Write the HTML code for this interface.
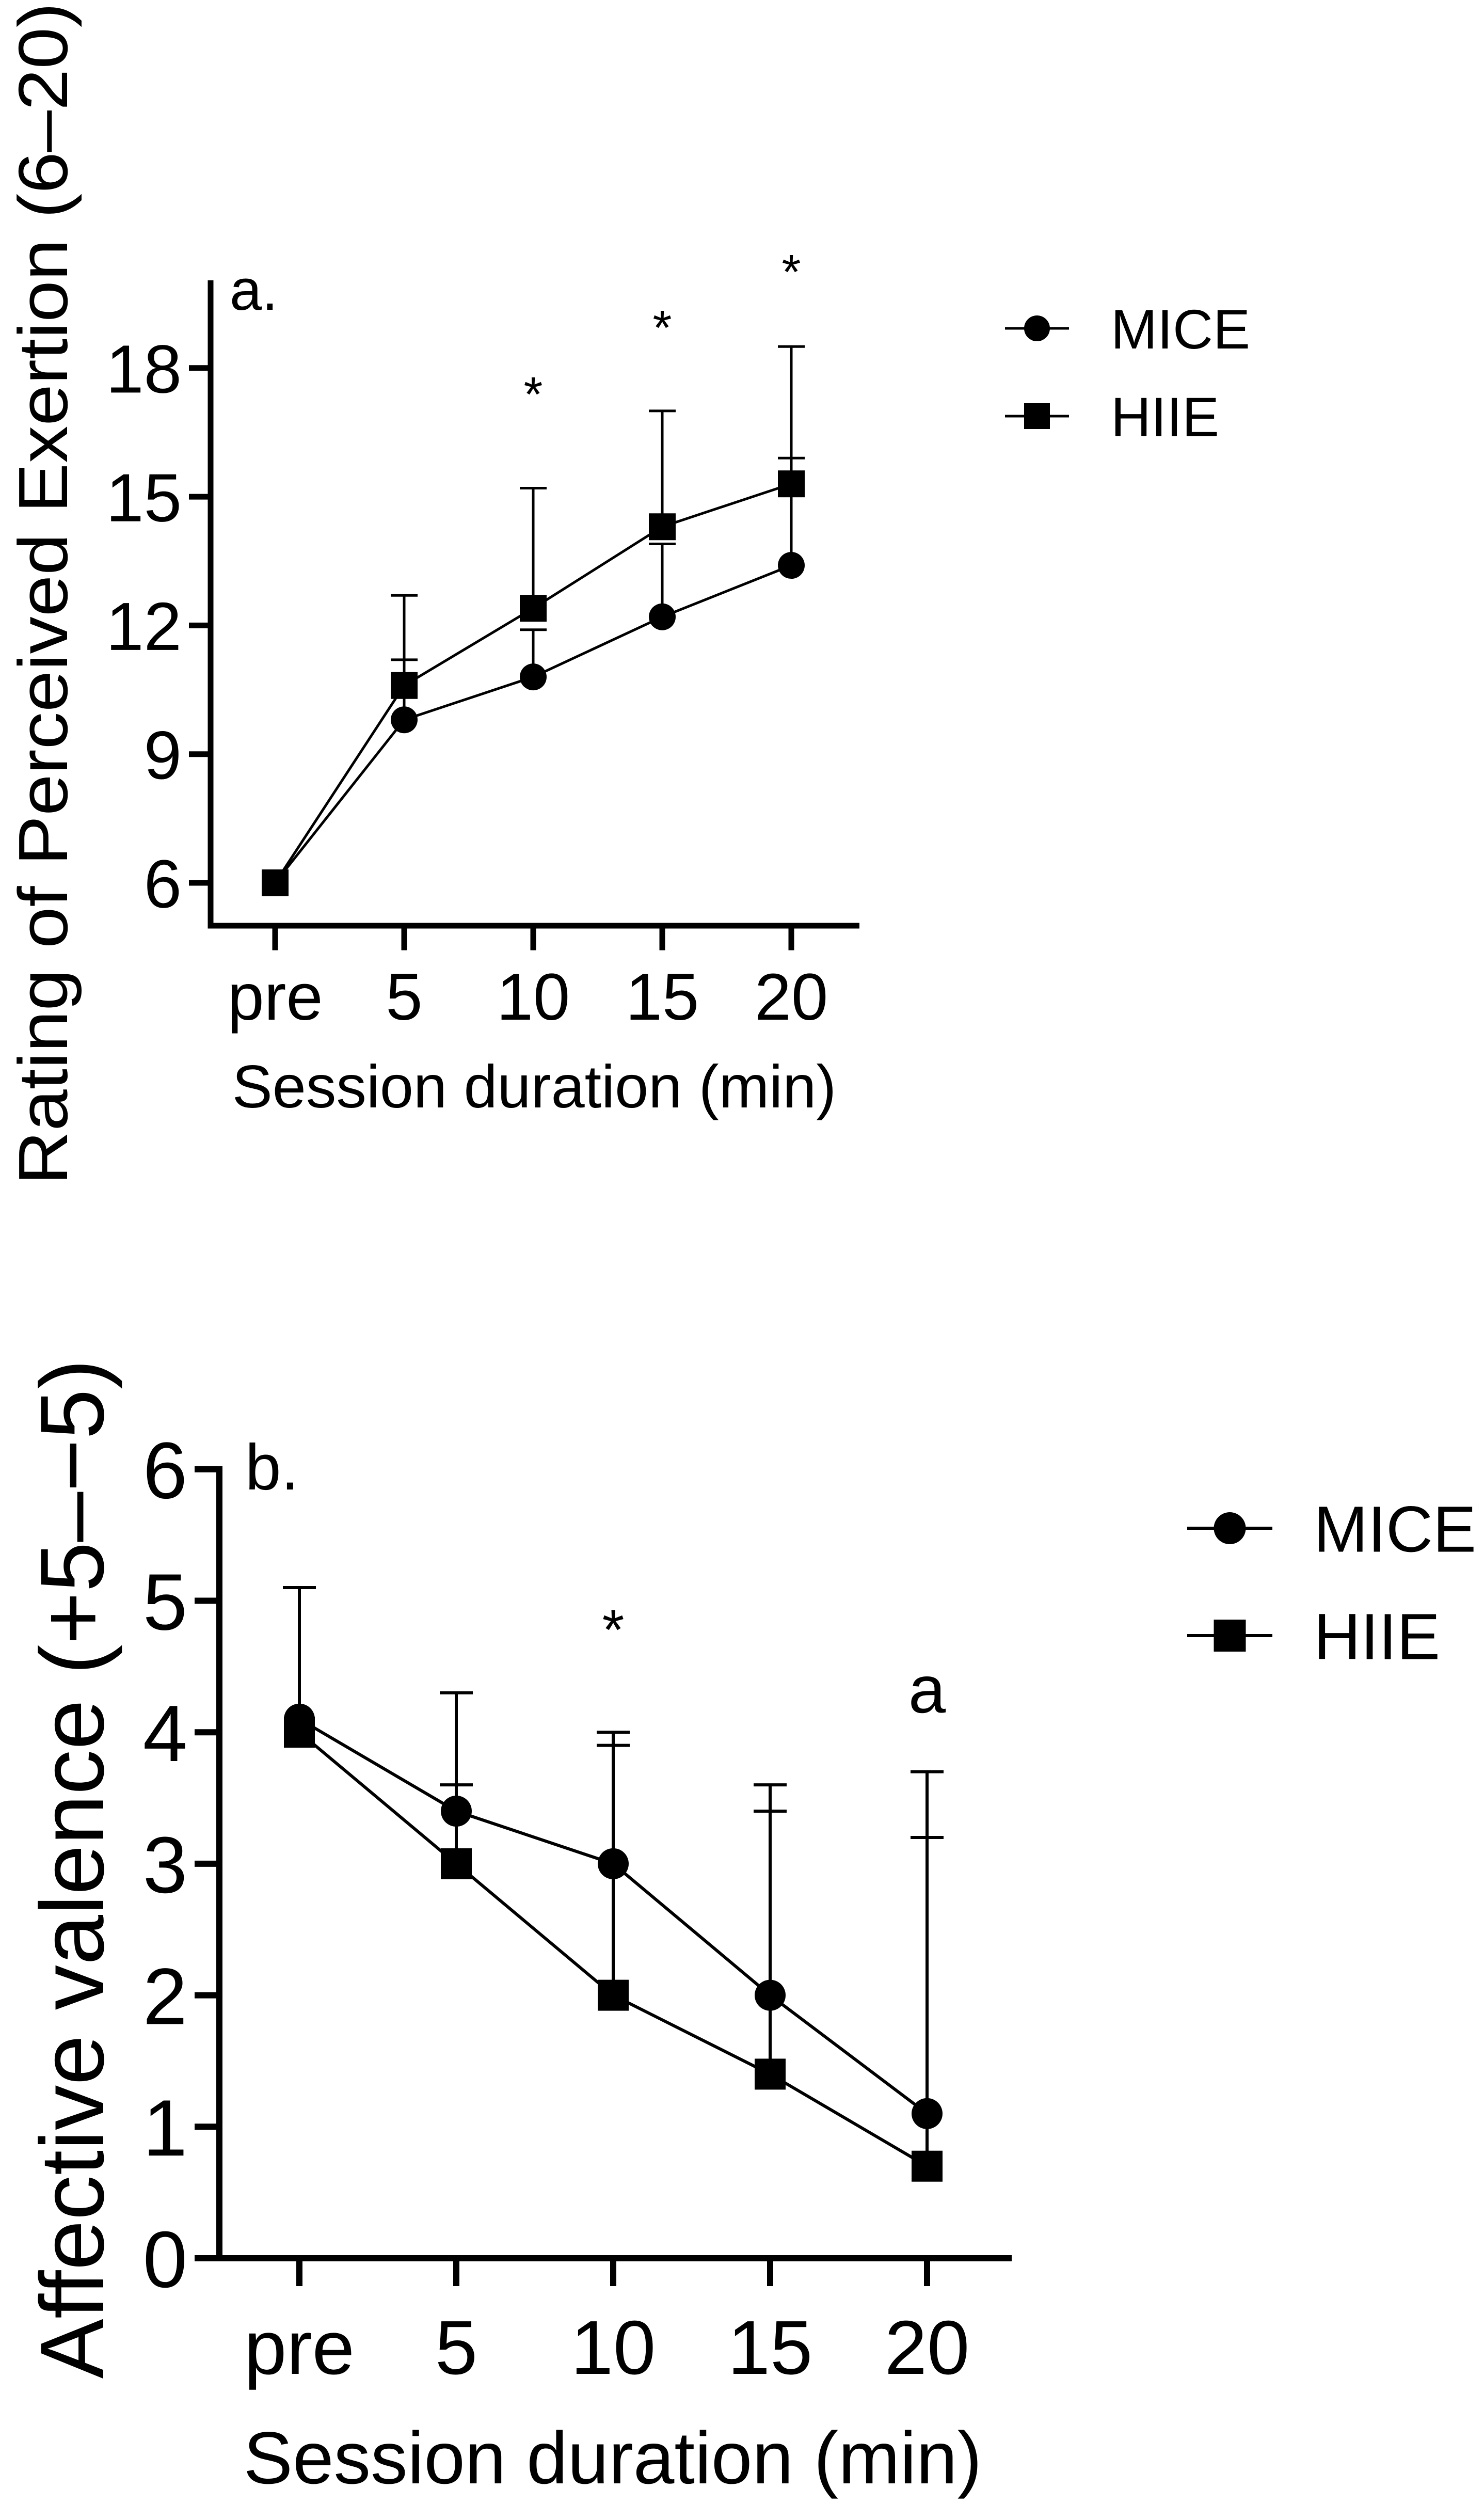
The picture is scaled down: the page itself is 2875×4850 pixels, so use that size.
<!DOCTYPE html>
<html><head><meta charset="utf-8"><style>
html,body{margin:0;padding:0;background:#fff;}
svg{display:block;font-family:"Liberation Sans",Arial,sans-serif;}
</style></head>
<body>
<svg id="fig" width="2875" height="4850" viewBox="0 0 2875 4850" xmlns="http://www.w3.org/2000/svg">
<rect width="2875" height="4850" fill="#fff"/>
<g id="chartA"></g>
<g id="chartB"></g>
</svg>
<script>
const categories = ["pre","5","10","15","20"];
const rpeMice = [6, 9.8, 10.8, 12.2, 13.4];
const rpeHiie = [6, 10.6, 12.4, 14.3, 15.3];
const rpeMiceErr = [null, 11.2, 11.9, 13.9, 15.9];
const rpeHiieErr = [null, 12.7, 15.2, 17.0, 18.5];
const rpeTicks = [6, 9, 12, 15, 18];
const rpeStars = ["", "", "*", "*", "*"];
const rpeStarY = [0, 0, 17.0, 18.55, 19.85];
const affMice = [4.1, 3.4, 3.0, 2.0, 1.1];
const affHiie = [4.0, 3.0, 2.0, 1.4, 0.7];
const affMiceErr = [5.1, 4.3, 4.0, 3.6, 3.7];
const affHiieErr = [null, 3.6, 3.9, 3.4, 3.2];
const affTicks = [0, 1, 2, 3, 4, 5, 6];
const affMarks = ["", "", "*", "", "a"];
const affMarkY = [0, 0, 4.63, 0, 4.15];

const NS = "http://www.w3.org/2000/svg";
function mk(parent, tag, attrs, text){
  const e = document.createElementNS(NS, tag);
  for (const k in attrs) e.setAttribute(k, attrs[k]);
  if (text !== undefined) e.textContent = text;
  parent.appendChild(e);
  return e;
}

function drawChart(g, cfg){
  const xS = i => cfg.x0 + i*cfg.dx;
  const yS = v => cfg.yBase - (v - cfg.vBase)*cfg.pxPerUnit;
  let ax = mk(g,'line',{x1:cfg.axX,y1:cfg.axTop,x2:cfg.axX,y2:cfg.axY+cfg.aw/2,stroke:'#000','stroke-width':cfg.aw});
   
  ax = mk(g,'line',{x1:cfg.axX-cfg.aw/2,y1:cfg.axY,x2:cfg.axEnd,y2:cfg.axY,stroke:'#000','stroke-width':cfg.aw});
   
  cfg.ticks.forEach(t=>{
    const y=yS(t);
    const tl=mk(g,'line',{x1:cfg.axX-cfg.tickLen,y1:y,x2:cfg.axX,y2:y,stroke:'#000','stroke-width':cfg.aw});
     
    const tx=mk(g,'text',{x:cfg.axX-cfg.tickLen-14,y:y+cfg.yfs*0.36,'text-anchor':'end','font-size':cfg.yfs},String(t));
     
  });
  categories.forEach((c,i)=>{
    const x=xS(i);
    const tl=mk(g,'line',{x1:x,y1:cfg.axY,x2:x,y2:cfg.axY+cfg.tickLen+cfg.aw/2,stroke:'#000','stroke-width':cfg.aw});
     
    const tx=mk(g,'text',{x:x,y:cfg.xlabY,'text-anchor':'middle','font-size':cfg.xfs},c);
     
  });
  [[cfg.mice,cfg.miceErr],[cfg.hiie,cfg.hiieErr]].forEach(([vals,errs])=>{
    vals.forEach((v,i)=>{
      if(errs[i]==null) return;
      const x=xS(i);
      const e=mk(g,'path',{d:`M${x},${yS(v)} V${yS(errs[i])} M${x-cfg.cap},${yS(errs[i])} H${x+cfg.cap}`,stroke:'#000','stroke-width':cfg.lw,fill:'none'});
       
    });
  });
  [cfg.mice,cfg.hiie].forEach((vals,k)=>{
    const d=vals.map((v,i)=>(i?'L':'M')+xS(i)+','+yS(v)).join(' ');
    const p=mk(g,'path',{d:d,stroke:'#000','stroke-width':cfg.lw,fill:'none'});
     
  });
  cfg.mice.forEach((v,i)=>{
    const c=mk(g,'circle',{cx:xS(i),cy:yS(v),r:cfg.ms/2,fill:'#000'});
     
  });
  cfg.hiie.forEach((v,i)=>{
    const r=mk(g,'rect',{x:xS(i)-cfg.ms/2,y:yS(v)-cfg.ms/2,width:cfg.ms,height:cfg.ms,fill:'#000'});
     
  });
  cfg.marks.forEach((m,i)=>{
    if(!m) return;
    const t=mk(g,'text',{x:xS(i),y:yS(cfg.markY[i]),'text-anchor':'middle','font-size':m==='*'?cfg.starfs:cfg.afs},m);
     
  });
  let t=mk(g,'text',{x:cfg.panelX,y:cfg.panelY,'font-size':cfg.pfs},cfg.panel);
   
  t=mk(g,'text',{x:cfg.xtX,y:cfg.xtY,'text-anchor':'middle','font-size':cfg.xtfs},'Session duration (min)');
   
  t=mk(g,'text',{x:0,y:0,'text-anchor':'middle','font-size':cfg.ytfs,textLength:cfg.ytLen,lengthAdjust:'spacingAndGlyphs',transform:`translate(${cfg.ytX},${cfg.ytY}) rotate(-90)`},cfg.ytitle);
   
  const lg=mk(g,'g',{});
   
  [['MICE',cfg.legY1,'c'],['HIIE',cfg.legY2,'s']].forEach(([name,y,shape])=>{
    const e=mk(lg,'g',{});
     
    mk(e,'line',{x1:cfg.legX1,y1:y,x2:cfg.legX2,y2:y,stroke:'#000','stroke-width':cfg.lw});
    const cx=(cfg.legX1+cfg.legX2)/2;
    if(shape==='c') mk(e,'circle',{cx:cx,cy:y,r:cfg.lms/2,fill:'#000'});
    else mk(e,'rect',{x:cx-cfg.lms/2,y:y-cfg.lms/2,width:cfg.lms,height:cfg.lms,fill:'#000'});
    mk(e,'text',{x:cfg.legTX,y:y+cfg.lfs*0.36,'font-size':cfg.lfs},name);
  });
}

drawChart(document.getElementById('chartA'),{
  x0:533, dx:250, yBase:1710, vBase:6, pxPerUnit:83.1,
  axX:408, axTop:543, axY:1793, axEnd:1665, aw:11, tickLen:42,
  ticks:rpeTicks, yfs:132, xfs:128, xlabY:1975,
  mice:rpeMice, hiie:rpeHiie, miceErr:rpeMiceErr, hiieErr:rpeHiieErr,
  lw:5, cap:26, ms:52, marks:rpeStars, markY:rpeStarY, starfs:95, afs:128,
  panel:'a.', panelX:445, panelY:600, pfs:112,
  xtX:1035, xtY:2145, xtfs:117,
  ytitle:'Rating of Perceived Exertion  (6–20)', ytX:130, ytY:1150, ytfs:135, ytLen:2290,
  legX1:1947, legX2:2071, legY1:636, legY2:806, lms:50, legTX:2152, lfs:108
});
drawChart(document.getElementById('chartB'),{
  x0:580, dx:304, yBase:4374, vBase:0, pxPerUnit:254.7,
  axX:425, axTop:2840, axY:4374, axEnd:1960, aw:12, tickLen:48,
  ticks:affTicks, yfs:155, xfs:148, xlabY:4598,
  mice:affMice, hiie:affHiie, miceErr:affMiceErr, hiieErr:affHiieErr,
  lw:6, cap:32, ms:60, marks:affMarks, markY:affMarkY, starfs:110, afs:130,
  panel:'b.', panelX:475, panelY:2885, pfs:125,
  xtX:1187, xtY:4810, xtfs:143,
  ytitle:'Affective valence (+5–−5)', ytX:200, ytY:3620, ytfs:175, ytLen:1975,
  legX1:2300, legX2:2465, legY1:2960, legY2:3168, lms:62, legTX:2545, lfs:126
});
</script>
</body></html>
